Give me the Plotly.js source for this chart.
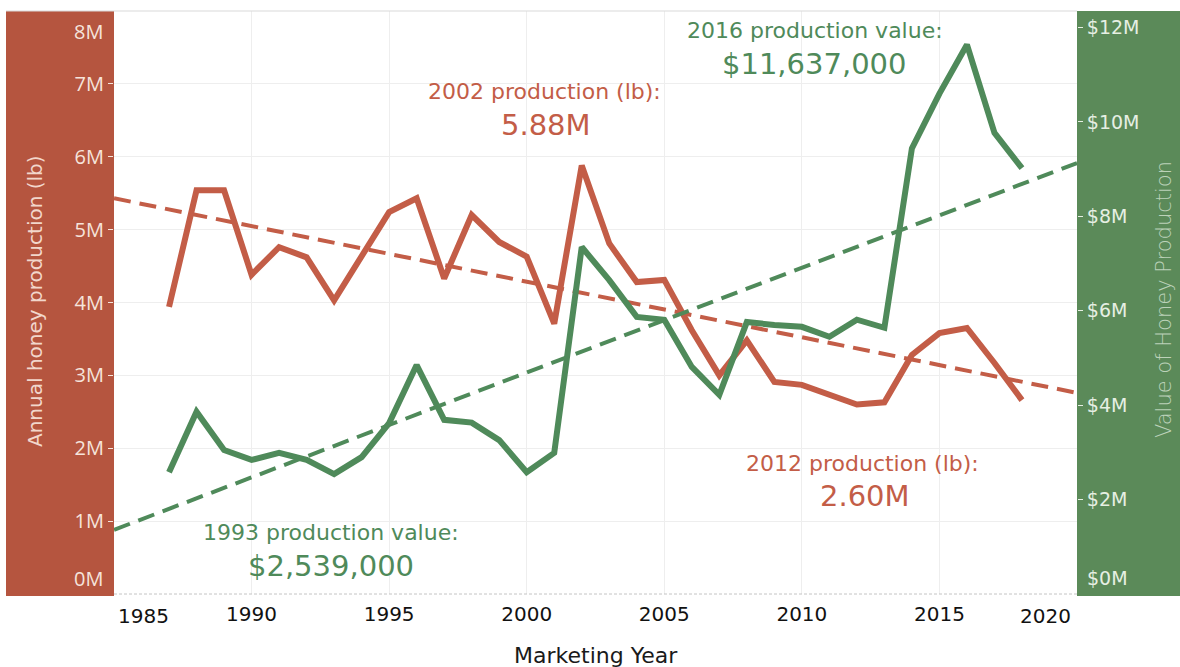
<!DOCTYPE html>
<html>
<head>
<meta charset="utf-8">
<script src="https://cdn.plot.ly/plotly-3.0.1.min.js"></script>
<style>html,body{margin:0;padding:0;background:#fff;}#chart{width:1180px;height:667px;}</style>
</head>
<body>
<div id="chart"></div>
<script>
// ---- data ----
const years = [1987,1988,1989,1990,1991,1992,1993,1994,1995,1996,1997,1998,1999,2000,2001,2002,
               2003,2004,2005,2006,2007,2008,2009,2010,2011,2012,2013,2014,2015,2016,2017,2018];
// annual honey production, millions of lb
const productionM = [3.94,5.54,5.54,4.38,4.76,4.62,4.03,4.63,5.24,5.43,4.33,5.20,4.83,4.63,3.71,5.88,
                     4.81,4.28,4.31,3.62,3.00,3.48,2.91,2.87,2.73,2.60,2.63,3.28,3.58,3.65,3.17,2.66];
// value of honey production, millions of $
const valueM = [2.58,3.86,3.05,2.84,2.99,2.84,2.539,2.90,3.62,4.85,3.69,3.63,3.26,2.58,2.99,7.35,
                6.65,5.87,5.81,4.81,4.22,5.76,5.70,5.66,5.45,5.81,5.64,9.44,10.60,11.637,9.77,9.02];
// trend lines (end points)
const trendYears = [1985, 2020];
const productionTrendM = [5.43, 2.76];
const valueTrendM = [1.36, 9.13];
// tick labels
const xTickYears = [1990,1995,2000,2005,2010,2015];
const leftTickVals = [1,2,3,4,5,6,7];
const leftTickText = ['1M','2M','3M','4M','5M','6M','7M'];
const rightTickVals = [2,4,6,8,10,12];
const rightTickText = ['$2M','$4M','$6M','$8M','$10M','$12M'];

// ---- styling ----
const RED = '#c35d47', GREEN = '#4f8a5a';
const RED_BAND = '#b5553f', GREEN_BAND = '#5b8a59';
const LEFT_TXT = '#f6e4dc', RIGHT_TXT = '#e6efe3';
const FONT = '"DejaVu Sans", Verdana, sans-serif';
const L = 114, R = 1077, T = 11, B = 594;
const W = R - L, H = B - T;
const px = x => (x - L) / W;
const py = y => (B - y) / H;

const traces = [
  {x: trendYears, y: productionTrendM, type: 'scatter', mode: 'lines', yaxis: 'y',
   line: {color: RED, width: 4, dash: '17px,9px'}, hoverinfo: 'skip'},
  {x: trendYears, y: valueTrendM, type: 'scatter', mode: 'lines', yaxis: 'y2',
   line: {color: GREEN, width: 4, dash: '17px,9px'}, hoverinfo: 'skip'},
  {x: years, y: productionM, type: 'scatter', mode: 'lines', yaxis: 'y',
   line: {color: RED, width: 6, shape: 'linear'}, name: 'Production (lb)'},
  {x: years, y: valueM, type: 'scatter', mode: 'lines', yaxis: 'y2',
   line: {color: GREEN, width: 6, shape: 'linear'}, name: 'Value ($)'}
];

function ann(text, x, y, font, extra) {
  return Object.assign({text: text, xref: 'paper', yref: 'paper', x: px(x), y: py(y),
    xanchor: 'center', yanchor: 'middle', showarrow: false, font: font}, extra || {});
}
const small = c => ({family: FONT, size: 22, color: c});
const big = c => ({family: FONT, size: 29, color: c});

const annotations = [
  ann('2016 production value:', 815, 30, small(GREEN)),
  ann('$11,637,000', 814, 64, big(GREEN)),
  ann('2002 production (lb):', 544, 92, small(RED)),
  ann('5.88M', 546, 125, big(RED)),
  ann('2012 production (lb):', 862, 463, small(RED)),
  ann('2.60M', 865, 496, big(RED)),
  ann('1993 production value:', 331, 532, small(GREEN)),
  ann('$2,539,000', 331, 566, big(GREEN)),
  // edge tick labels (shifted inward as in the reference)
  ann('8M', 105, 31, {family: '"Open Sans", sans-serif', size: 20, color: LEFT_TXT}, {xanchor: 'right'}),
  ann('0M', 105, 578, {family: '"Open Sans", sans-serif', size: 20, color: LEFT_TXT}, {xanchor: 'right'}),
  ann('$0M', 1085, 578, {family: FONT, size: 19, color: RIGHT_TXT}, {xanchor: 'left'}),
  ann('1985', 143, 616, {family: FONT, size: 20, color: '#111'}),
  ann('2020', 1045, 616, {family: FONT, size: 20, color: '#111'}),
  // axis titles
  ann('Annual honey production (lb)', 35, 301, {family: FONT, size: 20, color: '#f2d7cc'}, {textangle: -90}),
  ann('Value of Honey Production', 1164, 300, {family: FONT, size: 21, color: '#bcd2b9', weight: 300}, {textangle: -90}),
  ann('Marketing Year', 596, 655, {family: FONT, size: 22, color: '#1a1a1a'})
];

const shapes = [
  {type: 'rect', xref: 'paper', yref: 'paper', x0: px(6), x1: 0, y0: py(596), y1: 1,
   fillcolor: RED_BAND, line: {width: 0}, layer: 'below'},
  {type: 'rect', xref: 'paper', yref: 'paper', x0: 1, x1: px(1180), y0: py(596), y1: 1,
   fillcolor: GREEN_BAND, line: {width: 0}, layer: 'below'},
  {type: 'line', xref: 'paper', yref: 'paper', x0: px(6), x1: 1, y0: 1, y1: 1,
   line: {color: '#d9d9d9', width: 1}},
  {type: 'line', xref: 'paper', yref: 'paper', x0: 0, x1: 1, y0: 0, y1: 0,
   line: {color: '#c4c4c4', width: 1, dash: '3px,2px'}}
];

const layout = {
  width: 1180, height: 667,
  margin: {l: L, r: 1180 - R, t: T, b: 667 - B, pad: 0},
  paper_bgcolor: '#ffffff', plot_bgcolor: '#ffffff',
  showlegend: false,
  xaxis: {range: [1985, 2020], tickmode: 'array', tickvals: xTickYears,
          ticktext: xTickYears.map(String), showgrid: true, gridcolor: '#eeeeee', gridwidth: 1,
          zeroline: false, showline: false, ticks: '', ticklabelstandoff: 6,
          tickfont: {family: FONT, size: 20, color: '#111'}},
  yaxis: {range: [0, 8], tickmode: 'array', tickvals: leftTickVals, ticktext: leftTickText,
          showgrid: true, gridcolor: '#eeeeee', gridwidth: 1, zeroline: false, showline: false,
          ticks: 'outside', ticklen: 5, tickwidth: 1, tickcolor: LEFT_TXT,
          tickfont: {family: '"Open Sans", sans-serif', size: 20, color: LEFT_TXT}},
  yaxis2: {range: [0, 12.35], overlaying: 'y', side: 'right', tickmode: 'array',
           tickvals: rightTickVals, ticktext: rightTickText, showgrid: false, zeroline: false,
           showline: false, ticks: 'outside', ticklen: 5, tickwidth: 1, tickcolor: RIGHT_TXT,
           tickfont: {family: FONT, size: 19, color: RIGHT_TXT}},
  shapes: shapes,
  annotations: annotations
};

Plotly.newPlot('chart', traces, layout, {displayModeBar: false, staticPlot: true});
</script>
</body>
</html>
